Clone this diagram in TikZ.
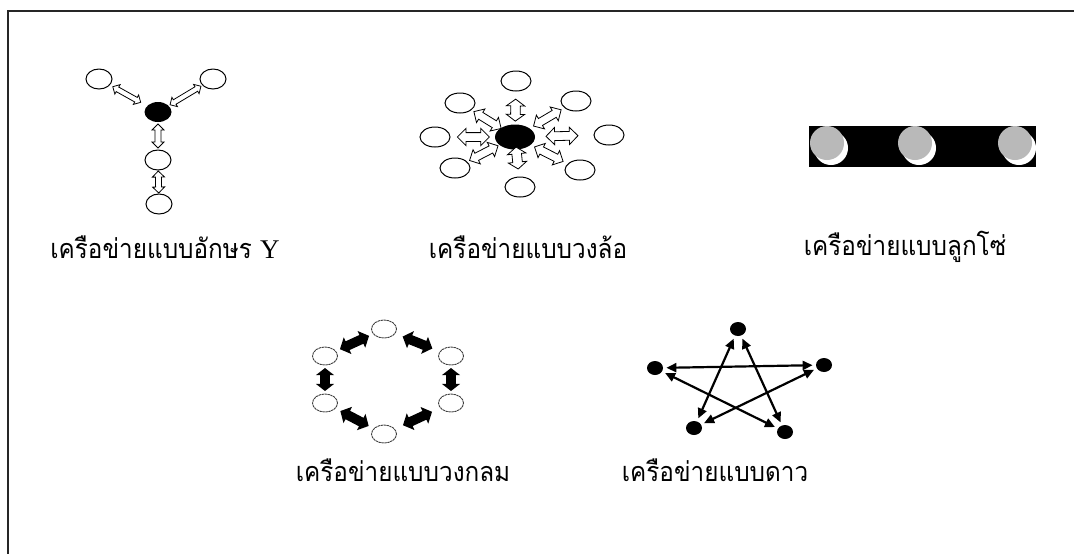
\documentclass[tikz,border=0pt]{standalone}
\usepackage{fontspec}
\newfontfamily\thaifont[Script=Thai,FakeStretch=0.9]{Loma}
\newfontfamily\latinserif{Liberation Serif}
\usetikzlibrary{shapes.geometric,calc,arrows.meta}
\tikzset{
  px/.style={x=0.5pt,y=-0.5pt},
  wnode/.style={ellipse,draw,line width=0.5pt,fill=white,minimum width=13pt,minimum height=10pt,inner sep=0pt},
  bnode/.style={ellipse,fill=black,minimum width=13.5pt,minimum height=10pt,inner sep=0pt},
  cnode/.style={ellipse,draw=black!75,dashed,dash pattern=on 1.2pt off 0.3pt,line width=0.45pt,fill=white,minimum width=12.5pt,minimum height=9pt,inner sep=0pt},
  snode/.style={ellipse,fill=black,minimum width=8pt,minimum height=7pt,inner sep=0pt},
  harrow/.style={draw,line width=0.4pt,fill=white,line join=miter},
  farrow/.style={fill=black},
  sarrow/.style={{Triangle[length=5pt,width=4.5pt]}-{Triangle[length=5pt,width=4.5pt]},line width=1.1pt,shorten <=1.5pt,shorten >=1.5pt},
  lbl/.style={font=\thaifont\fontsize{13.5}{16}\selectfont,inner sep=0pt,anchor=center},
  frame/.style={line width=1pt,black!85}
}
% #1 style, #2 from, #3 to, #4 length (pt), #5 shaft half (pt), #6 head half (pt), #7 position fraction, #8 head length (pt)
\newcommand{\blockarr}[8]{%
  \pgfmathanglebetweenpoints{\pgfpointanchor{#2}{center}}{\pgfpointanchor{#3}{center}}%
  \let\baang\pgfmathresult
  \pgfmathsetmacro\baL{#4/2}%
  \pgfmathsetmacro\baI{#4/2-#8}%
  \begin{scope}[shift={($(#2)!#7!(#3)$)},rotate=\baang,x=1pt,y=1pt]
    \path[#1] (-\baL,0) -- (-\baI,#6) -- (-\baI,#5) -- (\baI,#5) -- (\baI,#6) -- (\baL,0)
      -- (\baI,-#6) -- (\baI,-#5) -- (-\baI,-#5) -- (-\baI,-#6) -- cycle;
  \end{scope}}
\begin{document}
\begin{tikzpicture}[px]
\useasboundingbox (0,0) rectangle (1074,554);
\fill[white] (0,0) rectangle (1074,554);
\draw[frame] (1074,11) -- (8,11) -- (8,554);

% ---------- Y network ----------
\node[wnode] (y1) at (99,79) {};
\node[wnode] (y2) at (213,79) {};
\node[bnode] (y0) at (158,112) {};
\node[wnode] (y3) at (158,160) {};
\node[wnode] (y4) at (159,204) {};
\blockarr{harrow}{y1}{y0}{16}{1.3}{2.7}{0.47}{2.7}
\blockarr{harrow}{y2}{y0}{18}{1.3}{2.7}{0.5}{2.7}
\blockarr{harrow}{y0}{y3}{12}{1.5}{3}{0.5}{3}
\blockarr{harrow}{y3}{y4}{11}{1.5}{3}{0.5}{3}
\node[lbl] (ly) at (165,247) {เครือข่ายแบบอักษร {\latinserif Y}};

% ---------- wheel network ----------
\node[bnode,minimum width=20pt,minimum height=12.5pt] (w0) at (515,137) {};
\node[wnode,minimum width=15pt] (w1) at (516,81) {};
\node[wnode,minimum width=15pt] (w2) at (576,101) {};
\node[wnode,minimum width=15pt] (w3) at (609,135) {};
\node[wnode,minimum width=15pt] (w4) at (580,170) {};
\node[wnode,minimum width=15pt] (w5) at (520,187) {};
\node[wnode,minimum width=15pt] (w6) at (455,168) {};
\node[wnode,minimum width=15pt] (w7) at (435,137) {};
\node[wnode,minimum width=15pt] (w8) at (460,103) {};
\blockarr{harrow}{w1}{w0}{11}{2.4}{4.6}{0.52}{3.4}
\blockarr{harrow}{w0}{w2}{16}{2}{4}{0.53}{4}
\blockarr{harrow}{w0}{w3}{16}{2.2}{4.3}{0.5}{4.3}
\blockarr{harrow}{w0}{w4}{16}{2}{4}{0.52}{4}
\blockarr{harrow}{w0}{w5}{11}{2.4}{4.6}{0.42}{3.4}
\blockarr{harrow}{w6}{w0}{16}{2}{4}{0.48}{4}
\blockarr{harrow}{w7}{w0}{16}{2.2}{4.3}{0.48}{4.3}
\blockarr{harrow}{w8}{w0}{16}{2}{4}{0.5}{4}
\node[lbl] (lw) at (528,247) {เครือข่ายแบบวงล้อ};

% ---------- chain network ----------
\fill[black] (809,126) rectangle (1036,167);
\foreach \n/\cx in {c1/827,c2/915,c3/1015}{
  \fill[white] (\cx+4,148) circle[radius=8.5pt];
  \node[circle,fill=gray!55,minimum size=17pt,inner sep=0pt] (\n) at (\cx,143) {};
}
\node[lbl] (lc) at (905,247) {เครือข่ายแบบลูกโซ่};

% ---------- circle network ----------
\node[cnode] (r1) at (384,329) {};
\node[cnode] (r2) at (451,356) {};
\node[cnode] (r3) at (451,403) {};
\node[cnode] (r4) at (384,434) {};
\node[cnode] (r5) at (325,403) {};
\node[cnode] (r6) at (325,356) {};
\blockarr{farrow}{r6}{r1}{16}{2.4}{4.6}{0.5}{4.2}
\blockarr{farrow}{r1}{r2}{16}{2.4}{4.6}{0.5}{4.2}
\blockarr{farrow}{r2}{r3}{11.5}{2.4}{4.6}{0.5}{3.6}
\blockarr{farrow}{r3}{r4}{16}{2.4}{4.6}{0.5}{4.2}
\blockarr{farrow}{r4}{r5}{16}{2.4}{4.6}{0.5}{4.2}
\blockarr{farrow}{r5}{r6}{11.5}{2.4}{4.6}{0.5}{3.6}
\node[lbl] (lr) at (403,470) {เครือข่ายแบบวงกลม};

% ---------- star network ----------
\node[snode] (s1) at (738,329) {};
\node[snode] (s2) at (824,365) {};
\node[snode] (s3) at (785,432) {};
\node[snode] (s4) at (694,428) {};
\node[snode] (s5) at (655,368) {};
\draw[sarrow] (s5) -- (s2);
\draw[sarrow] (s1) -- (s4);
\draw[sarrow] (s1) -- (s3);
\draw[sarrow] (s5) -- (s3);
\draw[sarrow] (s2) -- (s4);
\node[lbl] (ls) at (715,470) {เครือข่ายแบบดาว};
\end{tikzpicture}
\end{document}
